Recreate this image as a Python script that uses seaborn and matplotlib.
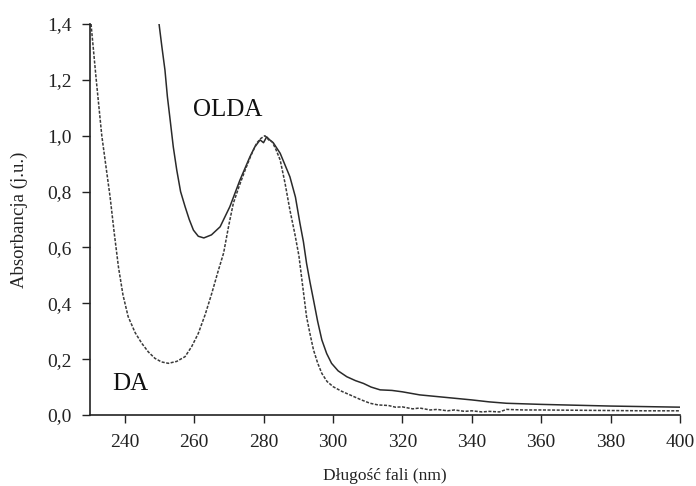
import numpy as np
import pandas as pd
import matplotlib
matplotlib.use('Agg')
import matplotlib.pyplot as plt
from matplotlib.ticker import FuncFormatter
import seaborn as sns

# Widma absorpcyjne DA i OLDA
da_x = [230.3, 231.8, 233.4, 234.6, 235.8, 237.0, 238.2, 239.5, 241.0, 243.0,
        244.9, 246.8, 248.7, 250.6, 252.6, 255.0, 257.4, 259.3, 261.2, 263.2,
        265.1, 266.8, 268.5, 270.0, 271.3, 273.0, 274.7, 276.4, 278.0, 279.2,
        280.4, 281.5, 282.5, 283.6, 284.8, 286.2, 287.6, 289.0, 290.2, 291.3,
        292.4, 293.4, 294.4, 295.6, 296.8, 298.3, 300.1, 302.5, 304.9, 308.0,
        310.7, 313.0, 316.0, 318.0, 320.0, 323.0, 325.0, 328.0, 330.0, 333.0,
        335.0, 338.0, 340.0, 343.0, 345.0, 348.0, 350.0, 355.0, 360.0, 370.0,
        380.0, 390.0, 400.0]
da_y = [1.40, 1.20, 1.00, 0.89, 0.78, 0.65, 0.53, 0.43, 0.352, 0.295,
        0.257, 0.226, 0.203, 0.19, 0.185, 0.192, 0.209, 0.245, 0.292, 0.36,
        0.436, 0.51, 0.58, 0.68, 0.758, 0.82, 0.877, 0.93, 0.973, 0.99,
        1.0, 0.985, 0.978, 0.95, 0.913, 0.83, 0.734, 0.65, 0.57, 0.46,
        0.352, 0.29, 0.233, 0.186, 0.149, 0.12, 0.101, 0.085, 0.072, 0.055,
        0.042, 0.036, 0.034, 0.028, 0.029, 0.022, 0.025, 0.018, 0.02, 0.015,
        0.018, 0.013, 0.015, 0.011, 0.013, 0.011, 0.02, 0.018, 0.018, 0.017,
        0.016, 0.015, 0.015]

olda_x = [249.9, 250.7, 251.6, 252.3, 253.1, 254.0, 255.0, 256.1, 257.4, 258.6,
          259.8, 261.2, 262.8, 265.0, 267.5, 270.3, 273.2, 276.1, 277.5, 279.0,
          280.0, 280.9, 281.8, 282.8, 284.8, 287.6, 289.2, 290.5, 291.5, 292.4,
          293.4, 294.4, 295.6, 296.8, 298.2, 299.6, 301.5, 304.0, 306.5, 308.8,
          311.0, 313.6, 317.0, 320.0, 325.0, 330.0, 335.0, 340.0, 345.0, 350.0,
          360.0, 370.0, 380.0, 390.0, 400.0]
olda_y = [1.40, 1.32, 1.235, 1.14, 1.056, 0.96, 0.877, 0.80, 0.746, 0.70,
          0.662, 0.64, 0.634, 0.645, 0.674, 0.746, 0.841, 0.925, 0.96, 0.985,
          0.975, 0.996, 0.985, 0.975, 0.937, 0.853, 0.78, 0.686, 0.62, 0.543,
          0.475, 0.412, 0.335, 0.269, 0.22, 0.185, 0.158, 0.137, 0.123, 0.113,
          0.10, 0.09, 0.088, 0.083, 0.072, 0.066, 0.06, 0.054, 0.047, 0.042,
          0.038, 0.035, 0.032, 0.030, 0.028]

x_ticks = [240, 260, 280, 300, 320, 340, 360, 380, 400]
y_ticks = [0.0, 0.2, 0.4, 0.6, 0.8, 1.0, 1.2, 1.4]

sns.set_theme(style='ticks')
plt.rcParams['font.family'] = ['Liberation Serif', 'DejaVu Serif']

fig, ax = plt.subplots(figsize=(6.96, 4.86), dpi=100)
fig.subplots_adjust(left=0.1293, right=0.977, bottom=0.1461, top=0.9506)

sns.lineplot(x=olda_x, y=olda_y, ax=ax, color='#2a2a2a', linewidth=1.1,
             estimator=None, sort=False)
sns.lineplot(x=da_x, y=da_y, ax=ax, color='#3a3a3a', linewidth=1.1,
             estimator=None, sort=False, linestyle=(0, (2, 1)))

ax.set_xlim(230, 400)
ax.set_ylim(0, 1.4)
ax.set_xticks(x_ticks)
ax.set_yticks(y_ticks)
ax.yaxis.set_major_formatter(FuncFormatter(lambda v, p: f'{v:.1f}'.replace('.', ',')))

ax.tick_params(axis='both', direction='out', length=6, width=1, colors='#222222',
               labelsize=14, labelcolor='#222222')
ax.tick_params(axis='x', pad=8)
ax.tick_params(axis='y', pad=7)

for s in ['top', 'right']:
    ax.spines[s].set_visible(False)
for s in ['left', 'bottom']:
    ax.spines[s].set_linewidth(1.2)
    ax.spines[s].set_color('#222222')

ax.set_xlabel('Długość fali (nm)', fontsize=12.5, color='#222222', labelpad=12)
ax.set_ylabel('Absorbancja (j.u.)', fontsize=13.5, color='#222222', labelpad=14)

# Etykiety krzywych
ax.text(269.6, 1.092, 'OLDA', fontsize=18, ha='center', va='center', color='#111111')
ax.text(241.5, 0.111, 'DA', fontsize=18, ha='center', va='center', color='#111111')

fig.savefig('out.png', dpi=100)
